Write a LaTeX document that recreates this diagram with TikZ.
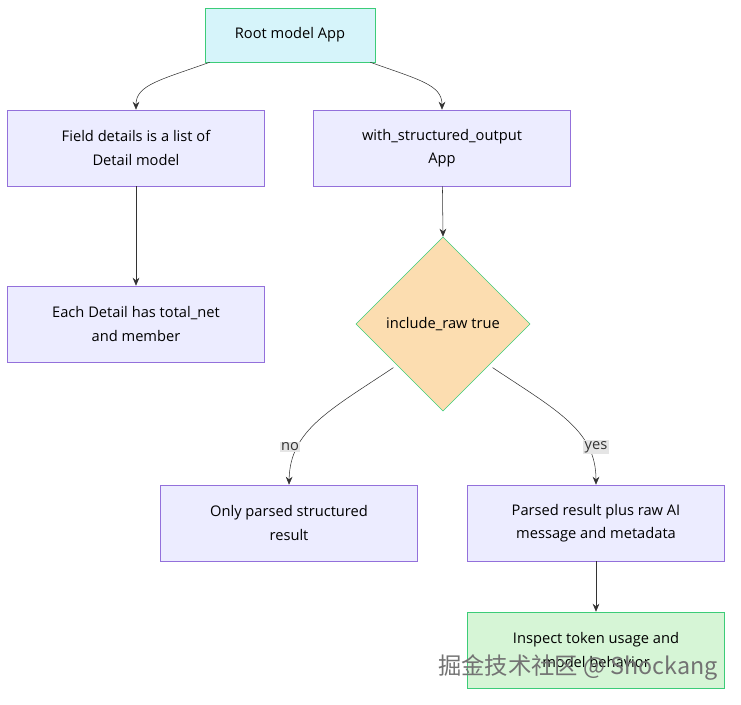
\documentclass[tikz,border=0pt]{standalone}
\usepackage{fontspec}
\setmainfont{Open Sans}
\newfontfamily\cjk{Noto Sans CJK SC}
\usetikzlibrary{shapes.geometric,arrows.meta}
\definecolor{boxfill}{RGB}{236,236,255}
\definecolor{boxline}{RGB}{147,112,219}
\definecolor{rootfill}{RGB}{214,244,250}
\definecolor{greenline}{RGB}{60,204,120}
\definecolor{decfill}{RGB}{252,221,176}
\definecolor{endfill}{RGB}{214,245,214}
\definecolor{edgeline}{RGB}{51,51,51}
\begin{document}
\begin{tikzpicture}[
            x=0.75pt, y=-0.75pt,
            font=\fontsize{11}{17.5}\selectfont,
            box/.style={draw=boxline, fill=boxfill, minimum width=192.75pt, minimum height=57pt, align=center, inner sep=0pt},
            edge/.style={draw=edgeline, -{Stealth[length=6pt,width=5pt]}},
            lbl/.style={fill=black!10, inner sep=1pt, text=edgeline}
        ]
            \useasboundingbox (0,0) rectangle (741,705);
            % nodes
            \node[box, draw=greenline, fill=rootfill, minimum width=127.5pt, minimum height=40.5pt] (root) at (290,35) {Root model App};
            \node[box] (field) at (136,148) {Field details is a list of\\Detail model};
            \node[box] (structured) at (442,148) {with\_structured\_output\\App};
            \node[box] (each) at (136,324) {Each Detail has total\_net\\and member};
            \node[diamond, draw=greenline, fill=decfill, minimum width=130.5pt, minimum height=130.5pt, inner sep=0pt] (raw) at (443,324) {include\_raw true};
            \node[box] (only) at (289,523) {Only parsed structured\\result};
            \node[box] (plus) at (596,523) {Parsed result plus raw AI\\message and metadata};
            \node[box, draw=greenline, fill=endfill] (inspect) at (596,650) {Inspect token usage and\\model behavior};

            % connectors
            \draw[edge] (root.south west) ++(5,0) coordinate (r1) .. controls (160,80) and (136,85) .. (field.north);
            \draw[edge] (root.south east) ++(-5,0) coordinate (r2) .. controls (420,80) and (442,85) .. (structured.north);
            \draw[edge] (field) -- (each);
            \draw[edge] (structured) -- (raw.north);
            \draw[edge] (raw.south west) ++(-6,0) coordinate (d1) .. controls (330,410) and (290,430) .. (only.north);
            \draw[edge] (raw.south east) ++(6,0) coordinate (d2) .. controls (556,410) and (596,430) .. (plus.north);
            \draw[edge] (plus) -- (inspect);
            \node[lbl] (no) at (290,447) {no};
            \node[lbl] (yes) at (596,447) {yes};

            % watermark
            \node[text=black!55, font=\cjk\fontsize{17.5}{20}\selectfont] (mark) at (578,668) {掘金技术社区 @ Shockang};
        \end{tikzpicture}
\end{document}
